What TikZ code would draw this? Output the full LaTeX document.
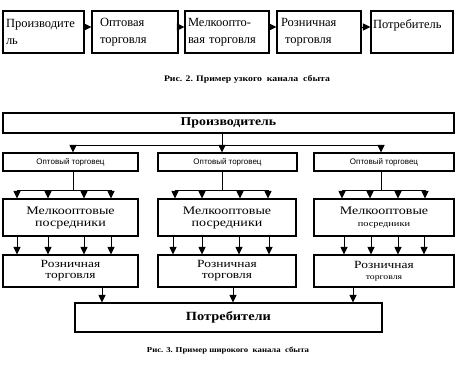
\documentclass[tikz,border=0pt]{standalone}
\usepackage{fontspec}
\setmainfont{Liberation Serif}
\newfontfamily\sansf{Liberation Sans}
\newfontfamily\widef[FakeStretch=1.22]{Liberation Serif}
\newfontfamily\widebf[FakeStretch=1.15]{Liberation Serif Bold}
\usetikzlibrary{arrows.meta}
\begin{document}
\begin{tikzpicture}[x=1pt,y=-1pt,
  box/.style={draw,line width=1.1pt,inner sep=0pt,anchor=center},
  toprow/.style={box,minimum height=42pt,align=left,font=\fontsize{12.5}{16.5}\selectfont},
  arr/.style={line width=1pt,-{Triangle[length=7.5pt,width=7pt]}},
  ln/.style={line width=1pt}]
\useasboundingbox (0,0) rectangle (462,372);
\fill[white] (0,0) rectangle (462,372);
% narrow channel
\node[toprow,minimum width=81pt,text width=75pt] (b1) at (43.5,32) {Производите\\ль};
\node[toprow,minimum width=86pt,text width=76pt] (b2) at (135,32) {\hspace*{3pt}Оптовая\\\hspace*{3pt}торговля};
\node[toprow,minimum width=84pt,text width=78pt] (b3) at (227,32) {Мелкоопто-\\вая торговля};
\node[toprow,minimum width=84pt,text width=76pt] (b4) at (319,32) {Розничная\\\hspace*{4pt}торговля};
\node[toprow,minimum width=82pt,text width=78pt] (b5) at (412,32) {Потребитель\\\mbox{}};
\foreach \a/\b in {b1/b2,b2/b3,b3/b4,b4/b5}
  \draw[arr] ([yshift=5pt]\a.east) -- ([yshift=5pt]\b.west);
\node[font=\widebf\fontsize{8.5}{9}\selectfont] (cap1) at (247,79) {Рис. 2. Пример узкого \ канала \ сбыта};
% wide channel
\node[box,minimum width=451pt,minimum height=20pt,font=\widebf\fontsize{12}{14}\selectfont] (prod) at (228.5,123) {Производитель};
\tikzset{ws/.style={box,minimum height=18pt,font=\sansf\fontsize{8}{9}\selectfont}}
\node[ws,minimum width=135pt] (wA) at (70.5,162) {Оптовый торговец};
\node[ws,minimum width=139pt] (wB) at (227.5,162) {Оптовый торговец};
\node[ws,minimum width=140pt] (wC) at (384,162) {Оптовый торговец};
\coordinate (busL) at (73,145);
\coordinate (busC) at (222,145);
\coordinate (busR) at (381,145);
\draw[arr] (busC |- prod.south) -- (busC |- wB.north);
\draw[ln] (busL) -- (busR);
\draw[arr] (busL) -- (busL |- wA.north);
\draw[arr] (busR) -- (busR |- wC.north);
\tikzset{md/.style={box,minimum height=37pt,align=center,font=\widef\fontsize{11.5}{12}\selectfont},
         rt/.style={box,minimum height=32pt,align=center,font=\widef\fontsize{11}{11}\selectfont}}
\node[md,minimum width=135pt] (mA) at (70.5,217.5) {Мелкооптовые\\посредники};
\node[md,minimum width=138pt] (mB) at (227,217.5) {Мелкооптовые\\посредники};
\node[md,minimum width=140pt] (mC) at (384,217.5) {Мелкооптовые\\{\fontsize{8.5}{9}\selectfont посредники}};
\node[rt,minimum width=135pt] (rA) at (70.5,271) {Розничная\\торговля};
\node[rt,minimum width=138pt] (rB) at (227,271) {Розничная\\торговля};
\node[rt,minimum width=140pt] (rC) at (384,271) {Розничная\\{\fontsize{8}{8}\selectfont торговля}};
\node[box,minimum width=307pt,minimum height=29pt,font=\widebf\fontsize{12.5}{13}\selectfont] (cons) at (228.5,317.5) {Потребители};
% wholesale -> mediate
\foreach \w/\m/\c/\xa/\xb/\xc/\xd in {wA/mA/73/17/48/84/111, wB/mB/222/175/202/240/268, wC/mC/381/342/370/398/425}{
  \draw[ln] (\c,0 |- \w.south) -- (\c,190);
  \draw[ln] (\xa,190) -- (\xd,190);
  \foreach \x in {\xa,\xb,\xc,\xd} \draw[arr] (\x,190) -- (\x,0 |- \m.north);
}
% mediate -> retail
\foreach \m/\r/\xa/\xb/\xc/\xd in {mA/rA/17/48/84/111, mB/rB/173/202/239/269, mC/rC/344/371/398/424}{
  \foreach \x in {\xa,\xb,\xc,\xd} \draw[arr] (\x,0 |- \m.south) -- (\x,0 |- \r.north);
}
% retail -> consumers
\foreach \r/\x in {rA/102, rB/233, rC/353}
  \draw[arr] (\x,0 |- \r.south) -- (\x,0 |- cons.north);
\node[font=\widebf\fontsize{7.6}{8}\selectfont] (cap2) at (228,351) {Рис. 3. Пример широкого \ канала \ сбыта};
\end{tikzpicture}
\end{document}
